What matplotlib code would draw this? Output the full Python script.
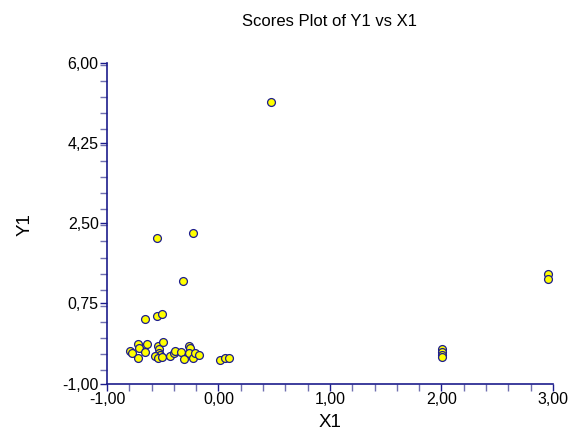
import numpy as np
import matplotlib
matplotlib.use("Agg")
from matplotlib import pyplot as plt
from matplotlib.ticker import MultipleLocator, FixedLocator, FuncFormatter

plt.rcParams['font.family'] = ['Liberation Sans', 'DejaVu Sans']

x1 = [0.468, 2.96, 2.96, 2.01, 2.01, 2.01, 2.01,
      -0.554, -0.231, -0.321, -0.662, -0.549, -0.51,
      -0.794, -0.773, -0.719, -0.713, -0.719, -0.644, -0.662,
      -0.545, -0.534, -0.537, -0.525, -0.50, -0.57, -0.545, -0.51,
      -0.435, -0.399, -0.387, -0.334, -0.307, -0.262, -0.253, -0.262,
      -0.229, -0.211, -0.172, 0.016, 0.058, 0.091]
y1 = [5.15, 1.40, 1.29, -0.245, -0.31, -0.376, -0.43,
      2.18, 2.29, 1.24, 0.418, 0.47, 0.52,
      -0.289, -0.333, -0.142, -0.217, -0.449, -0.142, -0.304,
      -0.18, -0.245, -0.326, -0.376, -0.098, -0.398, -0.449, -0.427,
      -0.398, -0.326, -0.295, -0.304, -0.464, -0.18, -0.23, -0.333,
      -0.435, -0.333, -0.376, -0.479, -0.435, -0.449]

navy = '#1c1c8c'

fig = plt.figure(figsize=(5.85, 4.32), dpi=100)
ax = fig.add_axes([0.183, 0.112, 0.762, 0.743])

ax.scatter(x1, y1, s=32, facecolor='#ffff00', edgecolor=navy, linewidth=0.9, zorder=3)

ax.set_xlim(-1, 3)
ax.set_ylim(-1, 6)
ax.xaxis.set_major_locator(MultipleLocator(1))
ax.xaxis.set_minor_locator(MultipleLocator(0.2))
ax.yaxis.set_major_locator(FixedLocator([-1, 0.75, 2.5, 4.25, 6]))
ax.yaxis.set_minor_locator(MultipleLocator(0.35))
fmt = FuncFormatter(lambda v, p: '{:.2f}'.format(v).replace('.', ','))
ax.xaxis.set_major_formatter(fmt)
ax.yaxis.set_major_formatter(fmt)

for s in ['top', 'right']:
    ax.spines[s].set_visible(False)
for s in ['left', 'bottom']:
    ax.spines[s].set_color(navy)
    ax.spines[s].set_linewidth(1.2)
ax.tick_params(which='major', direction='out', length=5, width=1, color=navy,
               labelsize=11.5, pad=1)
ax.tick_params(which='minor', direction='out', length=5, width=1, color='#7070b0')

ax.set_xlabel('X1', fontsize=13.5, va='center')
ax.set_ylabel('Y1', fontsize=13.5, va='center')
ax.xaxis.set_label_coords(0.5, -0.122)
ax.yaxis.set_label_coords(-0.183, 0.497)
fig.text(0.564, 0.951, 'Scores Plot of Y1 vs X1', ha='center', va='center', fontsize=12)

fig.savefig('out.png', dpi=100)
